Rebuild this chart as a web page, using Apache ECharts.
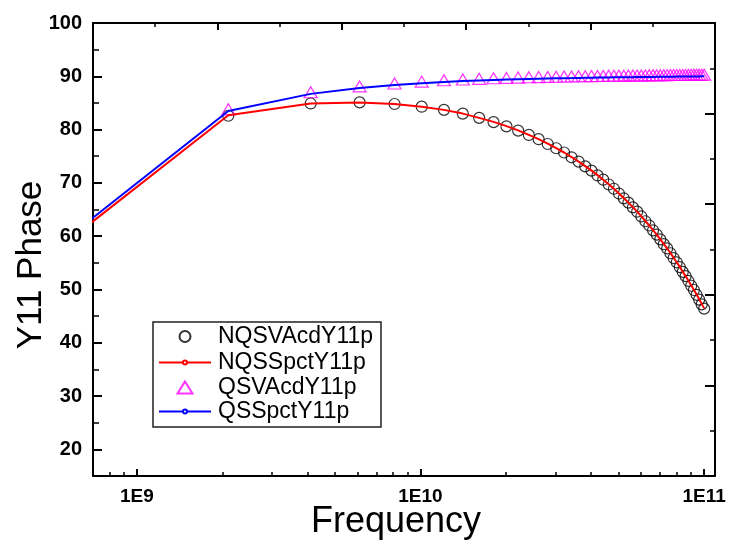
<!DOCTYPE html>
<html>
<head>
<meta charset="utf-8">
<script src="https://cdn.jsdelivr.net/npm/echarts@6/dist/echarts.min.js"></script>
<style>
  html, body { margin: 0; padding: 0; background: #fff; }
  #chart { width: 733px; height: 546px; }
</style>
</head>
<body>
<div id="chart"></div>
<script>
// Frequency sweep (Hz)
const freq = [1e8, 2.1e9, 4.1e9, 6.1e9, 8.1e9, 1.01e10, 1.21e10, 1.41e10, 1.61e10, 1.81e10,
  2.01e10, 2.21e10, 2.41e10, 2.61e10, 2.81e10, 3.01e10, 3.21e10, 3.41e10, 3.61e10, 3.81e10,
  4.01e10, 4.21e10, 4.41e10, 4.61e10, 4.81e10, 5.01e10, 5.21e10, 5.41e10, 5.61e10, 5.81e10,
  6.01e10, 6.21e10, 6.41e10, 6.61e10, 6.81e10, 7.01e10, 7.21e10, 7.41e10, 7.61e10, 7.81e10,
  8.01e10, 8.21e10, 8.41e10, 8.61e10, 8.81e10, 9.01e10, 9.21e10, 9.41e10, 9.61e10, 9.81e10, 1.001e11];

// Y11 phase (deg), non-quasi-static, Verilog-A model
const nqsVAcd = [27.4, 82.6, 84.9, 85.1, 84.8, 84.3, 83.7, 83.0, 82.2, 81.4,
  80.6, 79.8, 79.0, 78.2, 77.3, 76.5, 75.7, 74.8, 74.0, 73.1,
  72.3, 71.4, 70.6, 69.7, 68.9, 68.0, 67.1, 66.3, 65.4, 64.6,
  63.7, 62.8, 62.0, 61.1, 60.3, 59.4, 58.5, 57.7, 56.8, 55.9,
  55.1, 54.2, 53.3, 52.5, 51.6, 50.7, 49.9, 49.0, 48.1, 47.2, 46.4];

// Y11 phase (deg), non-quasi-static, Spectre
const nqsSpct = [27.5, 82.7, 84.9, 85.1, 84.8, 84.3, 83.7, 83.0, 82.2, 81.45,
  80.65, 79.85, 79.0, 78.2, 77.35, 76.5, 75.7, 74.85, 74.0, 73.15,
  72.3, 71.45, 70.6, 69.75, 68.9, 68.0, 67.15, 66.3, 65.45, 64.6,
  63.7, 62.85, 62.0, 61.15, 60.3, 59.4, 58.55, 57.7, 56.85, 55.95,
  55.1, 54.25, 53.35, 52.5, 51.65, 50.8, 49.9, 49.05, 48.2, 47.3, 46.45];

// Y11 phase (deg), quasi-static, Verilog-A model
const qsVAcd = [28.3, 83.8, 87.0, 88.1, 88.65, 89.0, 89.25, 89.4, 89.52, 89.62,
  89.7, 89.76, 89.81, 89.85, 89.89, 89.92, 89.95, 89.97, 90.0, 90.02,
  90.04, 90.06, 90.07, 90.09, 90.1, 90.11, 90.12, 90.13, 90.14, 90.15,
  90.16, 90.17, 90.18, 90.19, 90.2, 90.2, 90.21, 90.22, 90.23, 90.23,
  90.24, 90.25, 90.25, 90.26, 90.26, 90.27, 90.27, 90.28, 90.28, 90.29, 90.3];

// Y11 phase (deg), quasi-static, Spectre
const qsSpct = [28.0, 83.5, 86.7, 87.8, 88.35, 88.7, 88.95, 89.1, 89.22, 89.32,
  89.4, 89.46, 89.51, 89.55, 89.59, 89.62, 89.65, 89.67, 89.7, 89.72,
  89.74, 89.76, 89.77, 89.79, 89.8, 89.81, 89.82, 89.83, 89.84, 89.85,
  89.86, 89.87, 89.88, 89.89, 89.9, 89.9, 89.91, 89.92, 89.93, 89.93,
  89.94, 89.95, 89.95, 89.96, 89.96, 89.97, 89.97, 89.98, 89.98, 89.99, 90.0];

// Axis ticks
const xMajorTicks = [1e9, 1e10, 1e11];
const xMinorTicks = [8e8, 9e8, 2e9, 3e9, 4e9, 5e9, 6e9, 7e9, 8e9, 9e9,
  2e10, 3e10, 4e10, 5e10, 6e10, 7e10, 8e10, 9e10];
const yMajorTicks = [20, 30, 40, 50, 60, 70, 80, 90, 100];

const X_MIN = 7e8, X_MAX = 1.093e11, Y_MIN = 15, Y_MAX = 100;
const FONT = '"Liberation Sans", Arial, sans-serif';

const pairs = vals => freq.map((f, i) => [f, vals[i]]);
const frameLine = { show: true, onZero: false, lineStyle: { color: '#000', width: 2 } };
const noLine = { show: false, onZero: false };

// One legend block per row so marker icons and line icons can be sized independently
const LEG_BOX = { x: 153, y: 322, w: 228, h: 105 };
const TEXT_X = 217;
function legendRow(name, top, iconW, iconH, iconCenterX) {
  const left = iconCenterX - iconW / 2;
  return {
    data: [name], orient: 'vertical', left: left, top: top, padding: 0,
    itemWidth: iconW, itemHeight: iconH, selectedMode: false,
    textStyle: { fontFamily: FONT, fontSize: 23, color: '#000',
      padding: [0, 0, 0, TEXT_X - (left + iconW + 5)] }
  };
}

const chart = echarts.init(document.getElementById('chart'), null, { renderer: 'canvas' });
chart.setOption({
  animation: false,
  backgroundColor: '#fff',
  grid: { left: 93, right: 18, top: 23, bottom: 70, containLabel: false },
  xAxis: [
    { type: 'log', position: 'bottom', min: X_MIN, max: X_MAX, axisLine: frameLine,
      axisTick: { inside: true, length: 7, lineStyle: { width: 2, color: '#000' }, customValues: xMajorTicks },
      axisLabel: { customValues: xMajorTicks, margin: 11, color: '#000', fontFamily: FONT, fontWeight: 'bold', fontSize: 19,
        formatter: v => '1E' + Math.round(Math.log10(v)) },
      splitLine: { show: false } },
    { type: 'log', position: 'bottom', min: X_MIN, max: X_MAX, axisLine: noLine,
      axisTick: { inside: true, length: 4, lineStyle: { width: 1.5, color: '#000' }, customValues: xMinorTicks },
      axisLabel: { show: false }, splitLine: { show: false } },
    { type: 'value', position: 'top', min: 0, max: 10, interval: 1, axisLine: frameLine,
      axisTick: { inside: true, length: 4, lineStyle: { width: 1.5, color: '#000' } },
      axisLabel: { show: false }, splitLine: { show: false } },
    { type: 'value', position: 'top', min: 0, max: 10, interval: 2, axisLine: noLine,
      axisTick: { inside: true, length: 7, lineStyle: { width: 2, color: '#000' } },
      axisLabel: { show: false }, splitLine: { show: false } }
  ],
  yAxis: [
    { type: 'value', position: 'left', min: Y_MIN, max: Y_MAX, interval: 5, axisLine: frameLine,
      axisTick: { inside: true, length: 6, lineStyle: { width: 1.5, color: '#000' } },
      axisLabel: { show: false }, splitLine: { show: false } },
    { type: 'value', position: 'left', min: Y_MIN, max: Y_MAX, axisLine: noLine,
      axisTick: { inside: true, length: 9, lineStyle: { width: 2, color: '#000' }, customValues: yMajorTicks },
      axisLabel: { customValues: yMajorTicks, margin: 11, color: '#000', fontFamily: FONT, fontWeight: 'bold', fontSize: 20 },
      splitLine: { show: false } },
    { type: 'value', position: 'right', min: 0, max: 10, interval: 1, axisLine: frameLine,
      axisTick: { inside: true, length: 5, lineStyle: { width: 1.5, color: '#000' } },
      axisLabel: { show: false }, splitLine: { show: false } },
    { type: 'value', position: 'right', min: 0, max: 10, interval: 2, axisLine: noLine,
      axisTick: { inside: true, length: 10, lineStyle: { width: 2, color: '#000' } },
      axisLabel: { show: false }, splitLine: { show: false } }
  ],
  legend: [
    legendRow('NQSVAcdY11p', 325, 11, 11, 184),
    legendRow('NQSSpctY11p', 351, 52, 5, 184),
    legendRow('QSVAcdY11p', 376, 15, 12, 184),
    legendRow('QSSpctY11p', 400, 52, 5, 184)
  ],
  graphic: [
    { type: 'rect', z: -1, shape: { x: LEG_BOX.x, y: LEG_BOX.y, width: LEG_BOX.w, height: LEG_BOX.h },
      style: { fill: '#fff', stroke: '#222', lineWidth: 1.5 } },
    { type: 'text', x: 31, y: 265, rotation: Math.PI / 2,
      style: { text: 'Y11 Phase', fontFamily: FONT, fontSize: 35, fill: '#000', align: 'center', verticalAlign: 'middle' } },
    { type: 'text', x: 396, y: 522,
      style: { text: 'Frequency', fontFamily: FONT, fontSize: 36, fill: '#000', align: 'center', verticalAlign: 'middle' } }
  ],
  series: [
    { name: 'NQSVAcdY11p', type: 'scatter', xAxisIndex: 0, yAxisIndex: 0, data: pairs(nqsVAcd),
      symbol: 'circle', symbolSize: 11,
      itemStyle: { color: 'transparent', borderColor: '#000', borderWidth: 1.2 } },
    { name: 'NQSSpctY11p', type: 'line', xAxisIndex: 0, yAxisIndex: 0, data: pairs(nqsSpct),
      symbol: 'emptyCircle', symbolSize: 3, showSymbol: false,
      lineStyle: { color: '#ff0000', width: 2 }, itemStyle: { color: '#ff0000' } },
    { name: 'QSVAcdY11p', type: 'scatter', xAxisIndex: 0, yAxisIndex: 0, data: pairs(qsVAcd),
      symbol: 'triangle', symbolSize: [13, 11],
      itemStyle: { color: 'transparent', borderColor: '#ff00ff', borderWidth: 1.2 } },
    { name: 'QSSpctY11p', type: 'line', xAxisIndex: 0, yAxisIndex: 0, data: pairs(qsSpct),
      symbol: 'emptyCircle', symbolSize: 3, showSymbol: false,
      lineStyle: { color: '#0000ff', width: 2 }, itemStyle: { color: '#0000ff' } }
  ]
});
</script>
</body>
</html>
